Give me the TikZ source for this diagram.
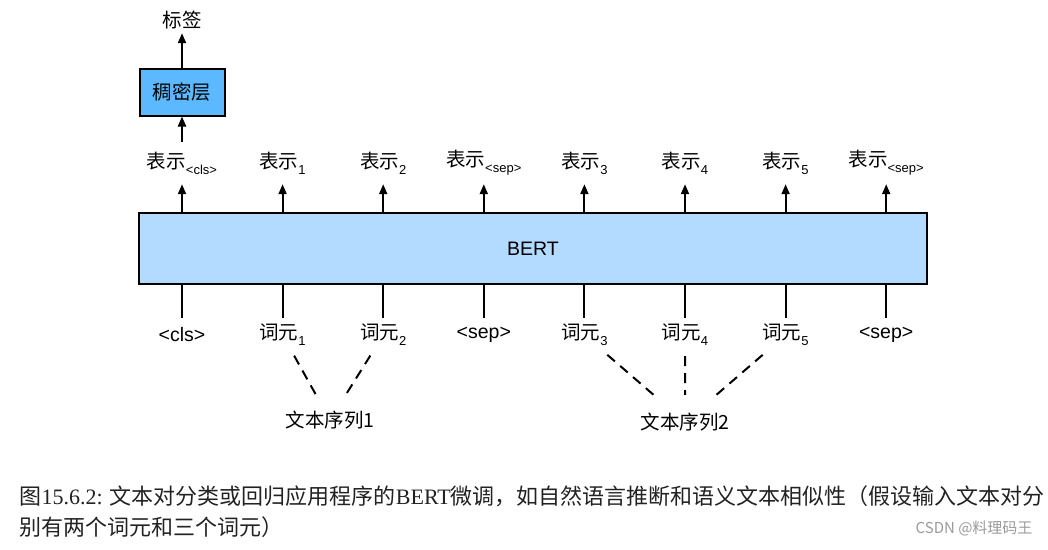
\documentclass[tikz,border=0pt]{standalone}
\usepackage{fontspec}
\setmainfont{Liberation Sans}
\newfontfamily\cjk{Noto Sans CJK SC}
\newfontfamily\capserif{Liberation Serif}
\usetikzlibrary{arrows.meta,positioning,calc}
\definecolor{bertblue}{HTML}{B3DAFF}
\definecolor{denseblue}{HTML}{5CB8FF}
\definecolor{captxt}{HTML}{222222}
\definecolor{marktxt}{HTML}{9A9A9A}
\newcommand{\lowidx}[1]{\raisebox{-0.3em}{\fontsize{13}{13}\selectfont #1}}

\begin{document}
\begin{tikzpicture}[x=1pt, y=-1pt, font=\fontsize{19.5}{23}\selectfont,
  arr/.style={-{Triangle[width=8pt,length=10pt]}, line width=2pt},
  stem/.style={line width=2pt},
  seqlink/.style={line width=2pt, dash pattern=on 10pt off 7pt, shorten <=4pt, shorten >=10pt},
  replbl/.style={inner sep=0pt, minimum height=42pt},
  toklbl/.style={inner sep=0pt, minimum height=34pt},
  seqlbl/.style={inner sep=0pt, minimum height=34pt},
  toplbl/.style={inner sep=0pt, minimum height=26pt}]
  \useasboundingbox (0,0) rectangle (1048,549);

  % BERT block
  \node[draw, line width=2.5pt, fill=bertblue, minimum width=788pt, minimum height=71pt, inner sep=0pt] (bert) at (533,248.5) {BERT};

  % Columns: representations above, tokens below
  \foreach \i/\rtxt/\ttxt [evaluate=\i as \cx using 182+100.6*\i] in {
      0/{{\cjk 表示}\lowidx{<cls>}}/{<cls>},
      1/{{\cjk 表示}\lowidx{1}}/{{\cjk 词元}\lowidx{1}},
      2/{{\cjk 表示}\lowidx{2}}/{{\cjk 词元}\lowidx{2}},
      3/{{\cjk 表示}\lowidx{<sep>}}/{<sep>},
      4/{{\cjk 表示}\lowidx{3}}/{{\cjk 词元}\lowidx{3}},
      5/{{\cjk 表示}\lowidx{4}}/{{\cjk 词元}\lowidx{4}},
      6/{{\cjk 表示}\lowidx{5}}/{{\cjk 词元}\lowidx{5}},
      7/{{\cjk 表示}\lowidx{<sep>}}/{<sep>}} {
    \node[replbl] (r\i) at (\cx,163) {\rtxt};
    \node[toklbl] (t\i) at (\cx,335) {\ttxt};
    \draw[arr] (bert.north -| r\i) -- (r\i);
    \draw[stem] (bert.south -| t\i) -- (t\i);
  }

  % Dense layer on the <cls> output
  \node[draw, line width=2pt, fill=denseblue, minimum width=85pt, minimum height=47pt, inner sep=0pt] (dense) at (182,92) {\cjk 稠密层};
  \node[toplbl] (label) at (182,20) {\cjk 标签};
  \draw[arr] (r0) -- (dense);
  \draw[arr] (dense) -- (label);

  % Text sequences
  \node[seqlbl] (seq1) at (330,420) {\cjk 文本序列1};
  \node[seqlbl] (seq2) at (685,422) {\cjk 文本序列2};
  \draw[seqlink] (t1) -- (seq1);
  \draw[seqlink] (t2) -- (seq1);
  \draw[seqlink] (t4) -- (seq2);
  \draw[seqlink] (t5) -- (seq2);
  \draw[seqlink] (t6) -- (seq2);

  % Caption and mark
  \node[anchor=west, captxt, font=\fontsize{22}{26}\selectfont] (cap1) at (16,496) {\cjk 图\capserif 15.6.2: \cjk 文本对分类或回归应用程序的\capserif BERT\cjk 微调，如自然语言推断和语义文本相似性（假设输入文本对分};
  \node[anchor=west, captxt, font=\fontsize{22}{26}\selectfont] (cap2) at (16,527) {\cjk 别有两个词元和三个词元）};
  \node[anchor=east, marktxt, font=\fontsize{15}{18}\selectfont] (mark) at (1036,528) {\cjk CSDN @料理码王};
\end{tikzpicture}
\end{document}
